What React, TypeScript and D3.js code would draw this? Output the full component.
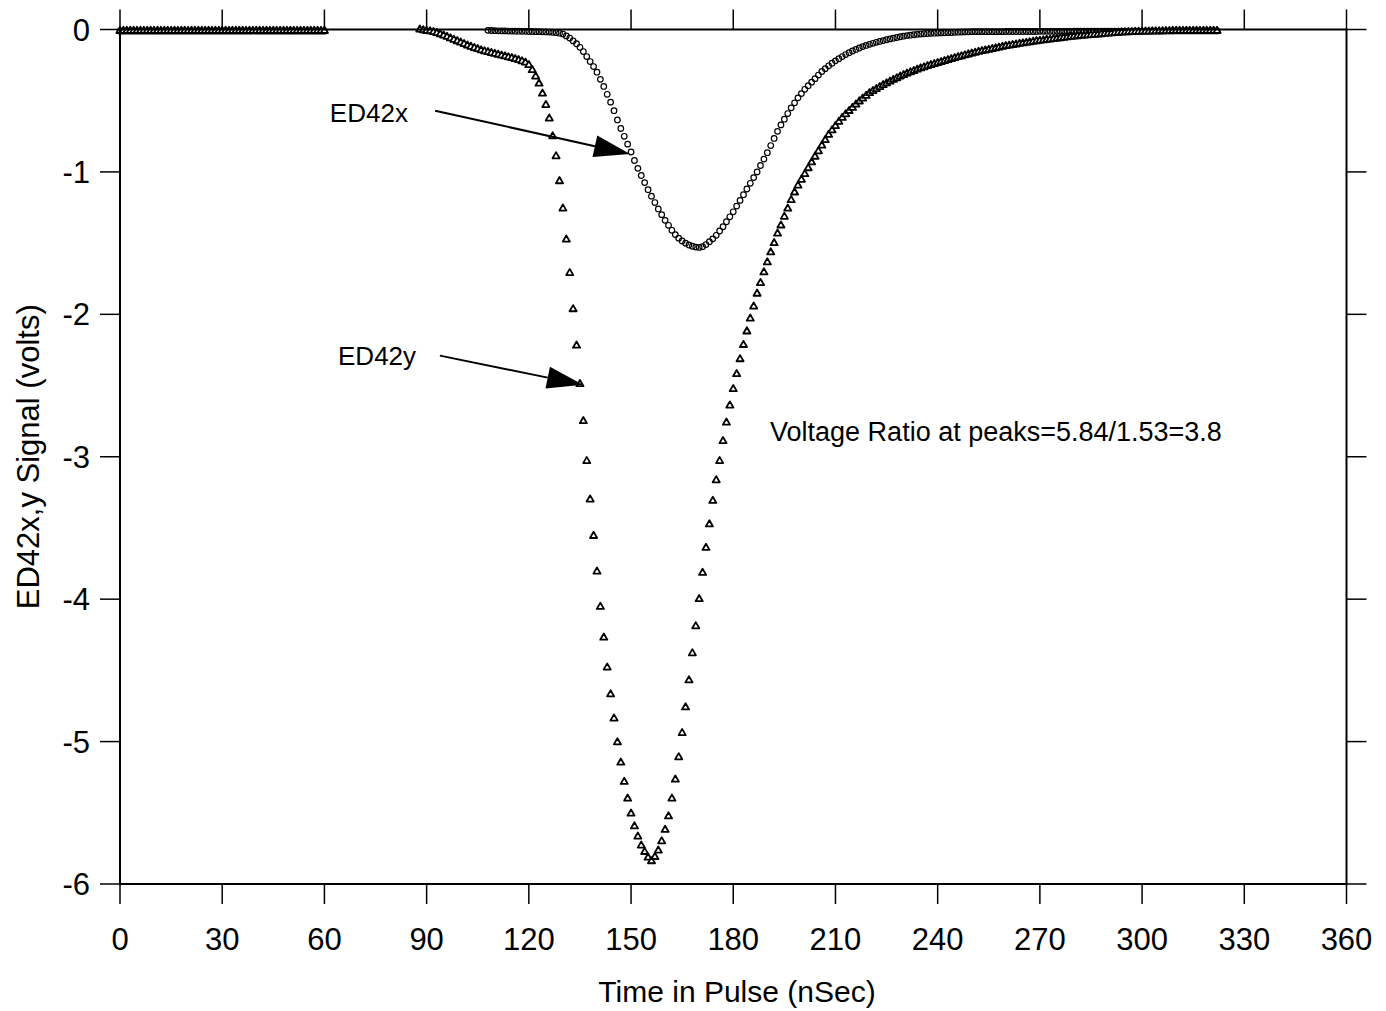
import React from "react";
import * as d3 from "d3";

const WIDTH = 1386;
const HEIGHT = 1011;
const FONT = "'Liberation Sans', Arial, Helvetica, sans-serif";

// Axis ticks
const X_TICKS = [0, 30, 60, 90, 120, 150, 180, 210, 240, 270, 300, 330, 360];
const Y_TICKS = [0, -1, -2, -3, -4, -5, -6];

// Sampling times of the digitiser record (1 ns steps, 0..322 ns)
const TIME_NS = d3.range(0, 323);

// ED42x signal (volts), one value per ns; null = no sample plotted
const ED42X: (number | null)[] = [
  // 0-60
  -.012, -.012, -.012, -.012, -.012, -.012, -.012, -.012, -.012, -.012,
  -.012, -.012, -.012, -.012, -.012, -.012, -.012, -.012, -.012, -.012,
  -.012, -.012, -.012, -.012, -.012, -.012, -.012, -.012, -.012, -.012,
  -.012, -.012, -.012, -.012, -.012, -.012, -.012, -.012, -.012, -.012,
  -.012, -.012, -.012, -.012, -.012, -.012, -.012, -.012, -.012, -.012,
  -.012, -.012, -.012, -.012, -.012, -.012, -.012, -.012, -.012, -.012,
  -.012,
  // 61-107
  null, null, null, null, null, null, null, null, null,
  null, null, null, null, null, null, null, null, null, null,
  null, null, null, null, null, null, null, null, null, null,
  null, null, null, null, null, null, null, null, null, null,
  null, null, null, null, null, null, null, null,
  // 108-109
  -.006, -.007,
  // 110-119
  -.008, -.009, -.01, -.01, -.011, -.011, -.012, -.012, -.013, -.013,
  // 120-129
  -.014, -.014, -.015, -.015, -.016, -.017, -.018, -.02, -.022, -.026,
  // 130-139
  -.032, -.045, -.06, -.08, -.1, -.125, -.155, -.19, -.225, -.26,
  // 140-149
  -.3, -.35, -.4, -.455, -.51, -.57, -.635, -.695, -.75, -.805,
  // 150-159
  -.86, -.92, -.975, -1.025, -1.075, -1.125, -1.17, -1.215, -1.26, -1.3,
  // 160-169
  -1.34, -1.375, -1.41, -1.44, -1.465, -1.485, -1.5, -1.513, -1.522, -1.528,
  // 170-179
  -1.53, -1.525, -1.51, -1.49, -1.47, -1.445, -1.415, -1.385, -1.35, -1.315,
  // 180-189
  -1.28, -1.24, -1.2, -1.16, -1.12, -1.08, -1.04, -1, -.955, -.91,
  // 190-199
  -.865, -.815, -.765, -.715, -.67, -.63, -.59, -.55, -.515, -.48,
  // 200-209
  -.45, -.42, -.395, -.37, -.345, -.32, -.295, -.275, -.255, -.237,
  // 210-219
  -.22, -.205, -.19, -.176, -.163, -.151, -.14, -.13, -.12, -.112,
  // 220-229
  -.104, -.097, -.09, -.084, -.078, -.072, -.066, -.061, -.056, -.051,
  // 230-239
  -.047, -.043, -.04, -.037, -.034, -.032, -.03, -.028, -.027, -.026,
  // 240-249
  -.025, -.024, -.023, -.022, -.021, -.02, -.019, -.018, -.017, -.016,
  // 250-259
  -.015, -.015, -.015, -.015, -.015, -.015, -.015, -.015, -.015, -.015,
  // 260-269
  -.014, -.014, -.014, -.014, -.014, -.014, -.014, -.014, -.014, -.014,
  // 270-279
  -.013, -.013, -.013, -.013, -.013, -.013, -.013, -.013, -.013, -.013,
  // 280-289
  -.012, -.012, -.012, -.012, -.012, -.012, -.012, -.012, -.012, -.012,
  // 290-299
  -.012, -.012, -.012, -.012, -.012, -.012, -.012, -.012, -.012, -.012,
  // 300-309
  -.011, -.011, -.011, -.011, -.011, -.011, -.011, -.011, -.011, -.011,
  // 310-319
  -.01, -.01, -.01, -.01, -.01, -.01, -.01, -.01, -.01, -.01,
  // 320-322
  -.01, -.01, -.01,
];

// ED42y signal (volts), one value per ns; null = no sample plotted
const ED42Y: (number | null)[] = [
  // 0-60
  -.01, -.01, -.01, -.01, -.01, -.01, -.01, -.01, -.01, -.01,
  -.01, -.01, -.01, -.01, -.01, -.01, -.01, -.01, -.01, -.01,
  -.01, -.01, -.01, -.01, -.01, -.01, -.01, -.01, -.01, -.01,
  -.01, -.01, -.01, -.01, -.01, -.01, -.01, -.01, -.01, -.01,
  -.01, -.01, -.01, -.01, -.01, -.01, -.01, -.01, -.01, -.01,
  -.01, -.01, -.01, -.01, -.01, -.01, -.01, -.01, -.01, -.01,
  -.01,
  // 61-87
  null, null, null, null, null, null, null, null, null,
  null, null, null, null, null, null, null, null, null, null,
  null, null, null, null, null, null, null, null,
  // 88-89
  0, -.005,
  // 90-99
  -.01, -.012, -.018, -.025, -.033, -.042, -.052, -.062, -.072, -.082,
  // 100-109
  -.092, -.102, -.112, -.121, -.13, -.138, -.146, -.153, -.159, -.165,
  // 110-119
  -.171, -.177, -.183, -.189, -.195, -.201, -.208, -.215, -.223, -.232,
  // 120-129
  -.25, -.285, -.33, -.38, -.45, -.53, -.625, -.75, -.89, -1.065,
  // 130-139
  -1.257, -1.475, -1.71, -1.964, -2.22, -2.49, -2.75, -3.03, -3.3, -3.556,
  // 140-149
  -3.806, -4.054, -4.27, -4.48, -4.668, -4.838, -5.005, -5.148, -5.283, -5.4,
  // 150-159
  -5.506, -5.595, -5.667, -5.73, -5.775, -5.815, -5.84, -5.81, -5.765, -5.7,
  // 160-169
  -5.62, -5.525, -5.4, -5.267, -5.11, -4.94, -4.76, -4.57, -4.38, -4.19,
  // 170-179
  -4, -3.815, -3.64, -3.475, -3.31, -3.165, -3.03, -2.89, -2.76, -2.64,
  // 180-189
  -2.525, -2.42, -2.315, -2.215, -2.12, -2.03, -1.945, -1.855, -1.78, -1.705,
  // 190-199
  -1.635, -1.565, -1.5, -1.433, -1.376, -1.315, -1.258, -1.198, -1.144, -1.096,
  // 200-209
  -1.055, -1.015, -.974, -.933, -.893, -.855, -.815, -.777, -.74, -.708,
  // 210-219
  -.678, -.648, -.62, -.595, -.572, -.55, -.527, -.505, -.485, -.466,
  // 220-229
  -.447, -.432, -.418, -.404, -.39, -.378, -.366, -.354, -.342, -.33,
  // 230-239
  -.32, -.31, -.3, -.291, -.282, -.273, -.265, -.257, -.25, -.243,
  // 240-249
  -.236, -.229, -.222, -.215, -.208, -.201, -.194, -.188, -.181, -.175,
  // 250-259
  -.169, -.163, -.157, -.152, -.147, -.142, -.137, -.132, -.127, -.122,
  // 260-269
  -.117, -.113, -.109, -.105, -.101, -.097, -.094, -.09, -.086, -.082,
  // 270-279
  -.079, -.076, -.073, -.07, -.067, -.064, -.061, -.058, -.055, -.052,
  // 280-289
  -.049, -.047, -.045, -.043, -.041, -.039, -.037, -.035, -.033, -.031,
  // 290-299
  -.029, -.027, -.025, -.023, -.021, -.02, -.019, -.018, -.017, -.016,
  // 300-309
  -.015, -.014, -.014, -.013, -.013, -.012, -.012, -.011, -.011, -.01,
  // 310-319
  -.01, -.01, -.01, -.01, -.01, -.01, -.01, -.01, -.01, -.01,
  // 320-322
  -.01, -.01, -.01,
];

// Annotation anchors in data units (ns, volts)
const LABEL_X = { text: "ED42x", t: 61.6, v: -0.65 };
const ARROW_X = { t1: 92.5, v1: -0.57, t2: 149.7, v2: -0.874 };
const LABEL_Y = { text: "ED42y", t: 64.0, v: -2.354 };
const ARROW_Y = { t1: 93.9, v1: -2.29, t2: 135.9, v2: -2.495 };
const RATIO_NOTE = { text: "Voltage Ratio at peaks=5.84/1.53=3.8", t: 190.8, v: -2.888 };

const X_TITLE = "Time in Pulse (nSec)";
const Y_TITLE = "ED42x,y Signal (volts)";

const x = d3.scaleLinear().domain([0, 360]).range([120, 1346.5]);
const y = d3.scaleLinear().domain([0, -6]).range([29.5, 884]);

const TICK = 20;

function Arrow({ t1, v1, t2, v2 }: { t1: number; v1: number; t2: number; v2: number }) {
  const x1 = x(t1), y1 = y(v1), x2 = x(t2), y2 = y(v2);
  const dx = x2 - x1, dy = y2 - y1;
  const len = Math.hypot(dx, dy);
  const ux = dx / len, uy = dy / len;
  const headLen = 36, half = 11;
  const bx = x2 - ux * headLen, by = y2 - uy * headLen;
  const pts = [
    [x2, y2],
    [bx - uy * half, by + ux * half],
    [bx + uy * half, by - ux * half],
  ];
  return (
    <g>
      <line x1={x1} y1={y1} x2={bx} y2={by} stroke="#000" strokeWidth={2} />
      <polygon points={pts.map((p) => p.join(",")).join(" ")} fill="#000" />
    </g>
  );
}

export default function App() {
  const circlePts = TIME_NS.map((t, i) => ({ t, v: ED42X[i] })).filter((d) => d.v !== null && d.v !== undefined) as { t: number; v: number }[];
  const triPts = TIME_NS.map((t, i) => ({ t, v: ED42Y[i] })).filter((d) => d.v !== null && d.v !== undefined) as { t: number; v: number }[];
  const tri = d3.symbol().type(d3.symbolTriangle).size(22)() as string;

  const [x0, x1] = x.range();
  const [y0, y1] = y.range();

  return (
    <svg
      width={WIDTH}
      height={HEIGHT}
      viewBox={`0 0 ${WIDTH} ${HEIGHT}`}
      style={{ position: "absolute", left: 0, top: 0, background: "#fff" }}
      fontFamily={FONT}
    >
      <rect x={0} y={0} width={WIDTH} height={HEIGHT} fill="#fff" />

      {/* ED42x: open circles */}
      <g fill="none" stroke="#000" strokeWidth={1.2}>
        {circlePts.map((d) => (
          <circle key={d.t} cx={x(d.t)} cy={y(d.v)} r={2.8} />
        ))}
      </g>

      {/* ED42y: small triangles with a light centre */}
      <g fill="#fff" stroke="#000" strokeWidth={1.8} strokeLinejoin="round">
        {triPts.map((d) => (
          <path key={d.t} d={tri} transform={`translate(${x(d.t)},${y(d.v)})`} />
        ))}
      </g>

      {/* frame */}
      <rect x={x0} y={y0} width={x1 - x0} height={y1 - y0} fill="none" stroke="#000" strokeWidth={2} />

      {/* ticks on all four sides, pointing outward */}
      <g stroke="#000" strokeWidth={1.5}>
        {X_TICKS.map((t) => (
          <g key={t}>
            <line x1={x(t)} x2={x(t)} y1={y1} y2={y1 + TICK} />
            <line x1={x(t)} x2={x(t)} y1={y0} y2={y0 - TICK} />
          </g>
        ))}
        {Y_TICKS.map((v) => (
          <g key={v}>
            <line x1={x0} x2={x0 - TICK} y1={y(v)} y2={y(v)} />
            <line x1={x1} x2={x1 + TICK} y1={y(v)} y2={y(v)} />
          </g>
        ))}
      </g>

      {/* tick labels */}
      <g fontSize={31} fill="#000">
        {X_TICKS.map((t) => (
          <text key={t} x={x(t)} y={950} textAnchor="middle">
            {t}
          </text>
        ))}
        {Y_TICKS.map((v) => (
          <text key={v} x={90} y={y(v) + 11} textAnchor="end">
            {v === 0 ? "0" : String(v)}
          </text>
        ))}
      </g>

      {/* axis titles */}
      <text x={737} y={1002} textAnchor="middle" fontSize={30} fill="#000">
        {X_TITLE}
      </text>
      <text
        transform={`translate(39,${(y0 + y1) / 2}) rotate(-90)`}
        textAnchor="middle"
        fontSize={31}
        fill="#000"
      >
        {Y_TITLE}
      </text>

      {/* annotations */}
      <g fontSize={26} fill="#000">
        <text x={x(LABEL_X.t)} y={y(LABEL_X.v)}>{LABEL_X.text}</text>
        <text x={x(LABEL_Y.t)} y={y(LABEL_Y.v)}>{LABEL_Y.text}</text>
        <text x={x(RATIO_NOTE.t)} y={y(RATIO_NOTE.v)} fontSize={27}>{RATIO_NOTE.text}</text>
      </g>
      <Arrow {...ARROW_X} />
      <Arrow {...ARROW_Y} />
    </svg>
  );
}
